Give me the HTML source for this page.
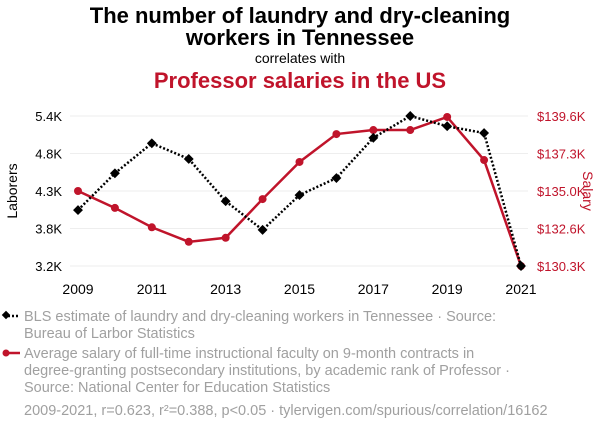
<!DOCTYPE html>
<html><head><meta charset="utf-8"><style>
body{margin:0;background:#fff;font-family:"Liberation Sans",sans-serif;}
svg text{font-family:"Liberation Sans",sans-serif;}
</style></head><body>
<svg id="c" width="600" height="430" xmlns="http://www.w3.org/2000/svg">
<text x="300" y="23" text-anchor="middle" font-size="22" font-weight="bold" fill="#000">The number of laundry and dry-cleaning</text>
<text x="300" y="45" text-anchor="middle" font-size="22" font-weight="bold" fill="#000">workers in Tennessee</text>
<text x="300" y="63" text-anchor="middle" font-size="14" fill="#000">correlates with</text>
<text x="300" y="88" text-anchor="middle" font-size="22" font-weight="bold" fill="#c0142b">Professor salaries in the US</text>
<text transform="translate(17,191) rotate(-90)" text-anchor="middle" font-size="14" fill="#000">Laborers</text>
<text transform="translate(583,191) rotate(90)" text-anchor="middle" font-size="14" fill="#c0142b">Salary</text>
<g id="grid"></g><g id="axes"></g><g id="series"></g>
<g>
<line x1="4" y1="316" x2="20" y2="316" stroke="#000" stroke-width="2.5" stroke-dasharray="2,2"/>
<rect x="3" y="312" width="6" height="6" transform="rotate(45 6 315)" fill="#000"/>
<text x="24" y="321" font-size="14.5" fill="#a0a0a0">BLS estimate of laundry and dry-cleaning workers in Tennessee · Source:</text>
<text x="24" y="338" font-size="14.5" fill="#a0a0a0">Bureau of Larbor Statistics</text>
<line x1="4" y1="353" x2="20" y2="353" stroke="#c0142b" stroke-width="2.5"/>
<circle cx="6" cy="353" r="3.5" fill="#c0142b"/>
<text x="24" y="358" font-size="14.5" fill="#a0a0a0">Average salary of full-time instructional faculty on 9-month contracts in</text>
<text x="24" y="375" font-size="14.5" fill="#a0a0a0">degree-granting postsecondary institutions, by academic rank of Professor ·</text>
<text x="24" y="392" font-size="14.5" fill="#a0a0a0">Source: National Center for Education Statistics</text>
</g>
<text x="24" y="415" font-size="14.5" fill="#a0a0a0">2009-2021, r=0.623, r²=0.388, p&lt;0.05 · tylervigen.com/spurious/correlation/16162</text>
</svg>
<script>
const years=[2009,2010,2011,2012,2013,2014,2015,2016,2017,2018,2019,2020,2021];
const laborers=[4.02,4.56,5.0,4.77,4.15,3.73,4.24,4.49,5.08,5.4,5.25,5.15,3.2];
const salary=[134.95,133.9,132.7,131.8,132.05,134.45,136.75,138.48,138.73,138.73,139.54,136.87,130.3];
const leftTicks=["5.4K","4.8K","4.3K","3.8K","3.2K"];
const rightTicks=["$139.6K","$137.3K","$135.0K","$132.6K","$130.3K"];
const xTicks=[2009,2011,2013,2015,2017,2019,2021];
const NS="http://www.w3.org/2000/svg";
const x=v=>78+(v-2009)*(521-78)/12;
const yL=v=>266-(v-3.2)*150/2.2;
const yR=v=>266-(v-130.3)*150/9.3;
function mk(t,a,p){const e=document.createElementNS(NS,t);for(const k in a)e.setAttribute(k,a[k]);document.getElementById(p).appendChild(e);return e;}
leftTicks.forEach((t,i)=>{const y=116+i*37.5;
const g=mk('line',{x1:70,x2:528,y1:y,y2:y,stroke:'#eee','stroke-width':1},'grid');


const a=mk('text',{x:62,y:y+5,'text-anchor':'end','font-size':13,fill:'#000'},'axes');a.textContent=t;


const b=mk('text',{x:537,y:y+5,'font-size':13,fill:'#c0142b'},'axes');b.textContent=rightTicks[i];

});
xTicks.forEach(v=>{const t=mk('text',{x:x(v),y:294,'text-anchor':'middle','font-size':14,fill:'#000'},'axes');t.textContent=v;

});
const rl=mk('polyline',{points:years.map((v,i)=>x(v)+','+yR(salary[i])).join(' '),fill:'none',stroke:'#c0142b','stroke-width':2.5},'series');


years.forEach((v,i)=>{const c=mk('circle',{cx:x(v),cy:yR(salary[i]),r:4,fill:'#c0142b'},'series');

});
const bl=mk('polyline',{points:years.map((v,i)=>x(v)+','+yL(laborers[i])).join(' '),fill:'none',stroke:'#000','stroke-width':2.5,'stroke-dasharray':'2,2'},'series');


years.forEach((v,i)=>{const cx=x(v),cy=yL(laborers[i]);const d=mk('rect',{x:cx-3.5,y:cy-3.5,width:7,height:7,fill:'#000',transform:`rotate(45 ${cx} ${cy})`},'series');

});
</script>
</body></html>
